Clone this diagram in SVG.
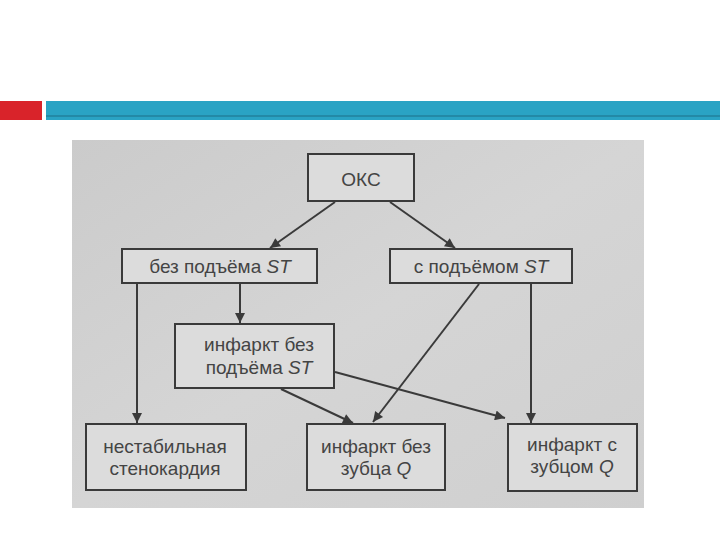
<svg xmlns="http://www.w3.org/2000/svg" width="720" height="540" viewBox="0 0 720 540">
<style>
.box{fill:#dcdcdc;stroke:#3a3a3a;stroke-width:2}
.t{font-family:"Liberation Sans",Arial,sans-serif;font-size:19px;fill:#444444;text-anchor:middle}
.i{font-style:italic}
.c{stroke:#3a3a3a;stroke-width:2;fill:none;marker-end:url(#ah)}
</style>
<defs>
<marker id="ah" viewBox="0 0 10 10" refX="10" refY="5" markerWidth="6" markerHeight="5" orient="auto" markerUnits="strokeWidth">
<path d="M0,0 L10,5 L0,10 z" fill="#3a3a3a"/>
</marker>
<linearGradient id="bgg" x1="0" y1="0" x2="1" y2="1">
<stop offset="0" stop-color="#cbcbcb"/>
<stop offset="0.5" stop-color="#d5d5d5"/>
<stop offset="1" stop-color="#cfcfcf"/>
</linearGradient>
</defs>
<rect x="0" y="0" width="720" height="540" fill="#ffffff"/>
<g id="header">
<rect x="0" y="101" width="42" height="19" fill="#d9232a"/>
<rect x="46" y="101" width="674" height="19" fill="#2aa3c4"/>
<rect x="46" y="115" width="674" height="2" fill="#2389a6"/>
</g>
<rect id="photo" x="72" y="140" width="572" height="368" fill="url(#bgg)"/>
<g id="connectors">
<line class="c" x1="335" y1="202" x2="270" y2="248"/>
<line class="c" x1="390" y1="202" x2="455" y2="248"/>
<line class="c" x1="137" y1="284" x2="137" y2="423"/>
<line class="c" x1="240" y1="284" x2="240" y2="323"/>
<line class="c" x1="479" y1="284" x2="373" y2="422"/>
<line class="c" x1="531" y1="284" x2="531" y2="423"/>
<line class="c" x1="281" y1="389" x2="353" y2="423"/>
<line class="c" x1="335" y1="372" x2="505" y2="418"/>
</g>
<g id="oks">
<rect class="box" x="308" y="154" width="106" height="47"/>
<text class="t" x="361" y="186">ОКС</text>
</g>
<g id="no-st">
<rect class="box" x="122" y="249" width="195" height="34"/>
<text class="t" x="220" y="273">без подъёма <tspan class="i">ST</tspan></text>
</g>
<g id="st">
<rect class="box" x="390" y="249" width="182" height="34"/>
<text class="t" x="481" y="273">с подъёмом <tspan class="i">ST</tspan></text>
</g>
<g id="mi-no-st">
<rect class="box" x="175" y="324" width="159" height="64"/>
<text class="t" x="259" y="351">инфаркт без</text>
<text class="t" x="259" y="374">подъёма <tspan class="i">ST</tspan></text>
</g>
<g id="unstable">
<rect class="box" x="86" y="424" width="160" height="66"/>
<text class="t" x="165" y="453">нестабильная</text>
<text class="t" x="165" y="475">стенокардия</text>
</g>
<g id="mi-no-q">
<rect class="box" x="307" y="424" width="138" height="66"/>
<text class="t" x="376" y="453">инфаркт без</text>
<text class="t" x="376" y="475">зубца <tspan class="i">Q</tspan></text>
</g>
<g id="mi-q">
<rect class="box" x="508" y="424" width="129" height="67"/>
<text class="t" x="572" y="451">инфаркт с</text>
<text class="t" x="572" y="473">зубцом <tspan class="i">Q</tspan></text>
</g>
</svg>
